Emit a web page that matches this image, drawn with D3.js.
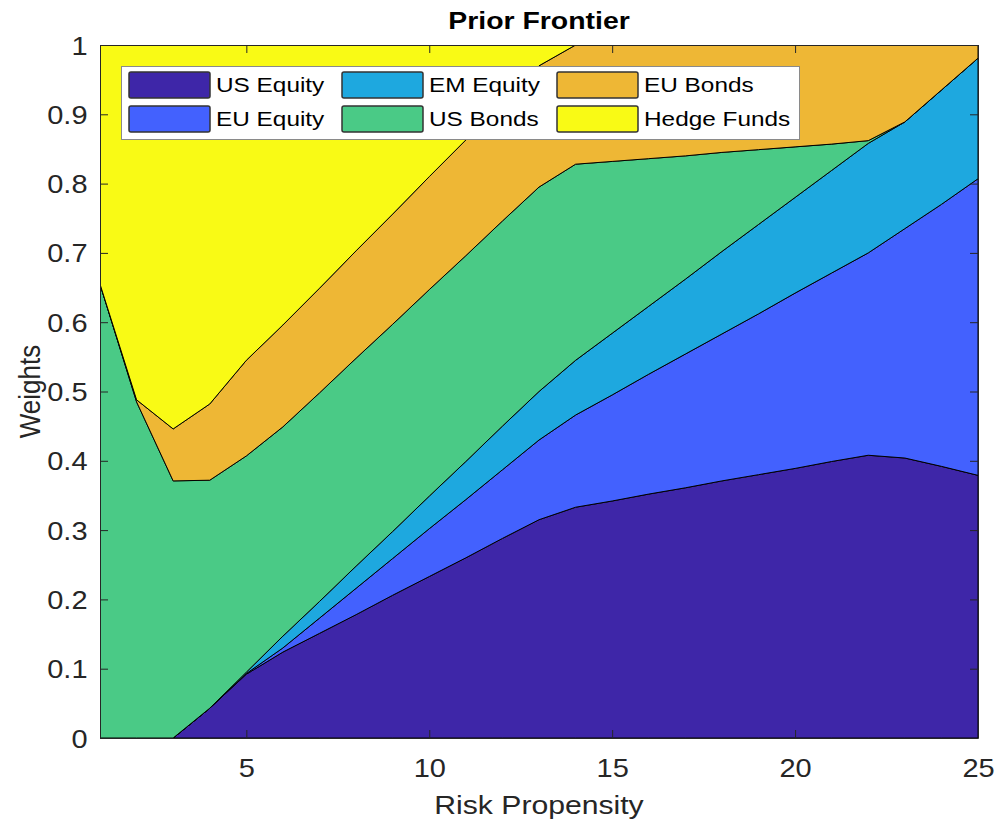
<!DOCTYPE html>
<html>
<head>
<meta charset="utf-8">
<script src="https://cdn.jsdelivr.net/npm/d3@7/dist/d3.min.js"></script>
<style>
  html, body { margin: 0; padding: 0; background: #fff; }
  svg { display: block; }
  text { font-family: "Liberation Sans", Arial, Helvetica, sans-serif; }
</style>
</head>
<body>
<svg id="chart" width="998" height="820"></svg>
<script>
// Risk propensity levels (x axis)
const riskLevels = d3.range(1, 26);

// Asset names, in stacking order (bottom to top)
const assets = ["US Equity", "EU Equity", "EM Equity", "US Bonds", "EU Bonds", "Hedge Funds"];

// Portfolio weights for each asset at every risk level
const usEquity   = [0, 0, 0, 0.043, 0.092, 0.124, 0.151, 0.178, 0.206, 0.233, 0.260, 0.288, 0.315, 0.333, 0.342, 0.352, 0.361, 0.371, 0.380, 0.389, 0.399, 0.408, 0.404, 0.392, 0.379];
const euEquity   = [0, 0, 0, 0, 0.001, 0.006, 0.022, 0.038, 0.053, 0.069, 0.084, 0.099, 0.115, 0.133, 0.153, 0.173, 0.193, 0.212, 0.232, 0.253, 0.272, 0.292, 0.331, 0.378, 0.428];
const emEquity   = [0, 0, 0, 0, 0.002, 0.017, 0.024, 0.032, 0.039, 0.047, 0.055, 0.063, 0.070, 0.079, 0.089, 0.098, 0.108, 0.119, 0.129, 0.138, 0.148, 0.158, 0.154, 0.165, 0.174];
const usBonds    = [0.655, 0.485, 0.371, 0.329, 0.312, 0.302, 0.301, 0.300, 0.299, 0.298, 0.297, 0.296, 0.295, 0.283, 0.248, 0.213, 0.178, 0.143, 0.108, 0.073, 0.038, 0.004, 0, 0, 0];
const euBonds    = [0, 0.003, 0.075, 0.110, 0.138, 0.147, 0.151, 0.155, 0.159, 0.163, 0.167, 0.171, 0.175, 0.172, 0.168, 0.164, 0.160, 0.155, 0.151, 0.147, 0.143, 0.138, 0.111, 0.065, 0.019];
const hedgeFunds = [0.345, 0.512, 0.554, 0.518, 0.455, 0.404, 0.351, 0.297, 0.244, 0.190, 0.137, 0.083, 0.030, 0, 0, 0, 0, 0, 0, 0, 0, 0, 0, 0, 0];

const xTicks = [5, 10, 15, 20, 25];
const yTicks = [0, 0.1, 0.2, 0.3, 0.4, 0.5, 0.6, 0.7, 0.8, 0.9, 1];

const colors = ["#3E26A8", "#4361FE", "#1EA8DF", "#4ACA86", "#EEB735", "#F9FA15"];

const seriesValues = [usEquity, euEquity, emEquity, usBonds, euBonds, hedgeFunds];
const rows = riskLevels.map((x, i) => {
  const r = { x };
  assets.forEach((a, k) => { r[a] = seriesValues[k][i]; });
  return r;
});

const margin = { left: 100, right: 20, top: 45, bottom: 82 };
const W = 998, H = 820;
const stretch = 1.16;   // horizontal widening applied to all text
const svg = d3.select("#chart");

const x = d3.scaleLinear().domain([1, 25]).range([margin.left, W - margin.right]);
const y = d3.scaleLinear().domain([0, 1]).range([H - margin.bottom, margin.top]);

const stacked = d3.stack().keys(assets)(rows);
const area = d3.area()
  .x(d => x(d.data.x))
  .y0(d => y(d[0]))
  .y1(d => y(d[1]));

const axisColor = "#262626";

// clip areas to the plot box
svg.append("clipPath").attr("id", "plotClip")
  .append("rect")
  .attr("x", margin.left).attr("y", margin.top)
  .attr("width", x.range()[1] - margin.left)
  .attr("height", y.range()[0] - margin.top);

svg.append("g").attr("clip-path", "url(#plotClip)")
  .selectAll("path")
  .data(stacked)
  .join("path")
  .attr("d", area)
  .attr("fill", (d, i) => colors[i])
  .attr("stroke", "#000")
  .attr("stroke-width", 1)
  .attr("stroke-linejoin", "round");

// axes with inward ticks, box on all four sides
const tickLen = 8;
const tickFont = 25;
const xAxisB = d3.axisBottom(x).tickValues(xTicks).tickSizeInner(-tickLen).tickSizeOuter(0);
const xAxisT = d3.axisTop(x).tickValues(xTicks).tickSizeInner(-tickLen).tickSizeOuter(0).tickFormat("");
const yAxisL = d3.axisLeft(y).tickValues(yTicks).tickSizeInner(-tickLen).tickSizeOuter(0).tickFormat(d3.format("~g"));
const yAxisR = d3.axisRight(y).tickValues(yTicks).tickSizeInner(-tickLen).tickSizeOuter(0).tickFormat("");

function styleAxis(g) {
  g.select(".domain").attr("stroke", axisColor).attr("stroke-width", 1);
  g.selectAll(".tick line").attr("stroke", axisColor).attr("stroke-width", 1);
  g.selectAll(".tick text").attr("fill", axisColor).style("font-size", tickFont + "px")
    .style("font-family", '"Liberation Sans", Arial, sans-serif');
}

svg.append("g").attr("transform", `translate(0,${y(0)})`).call(xAxisB).call(styleAxis)
  .selectAll(".tick text").attr("y", 39).attr("dy", 0)
  .attr("transform", `scale(${stretch},1)`);
svg.append("g").attr("transform", `translate(0,${y(1)})`).call(xAxisT).call(styleAxis);
svg.append("g").attr("transform", `translate(${x(1)},0)`).call(yAxisL).call(styleAxis)
  .selectAll(".tick text").attr("x", -12.5 / stretch).attr("dy", "0.36em")
  .attr("transform", `scale(${stretch},1)`);
svg.append("g").attr("transform", `translate(${x(25)},0)`).call(yAxisR).call(styleAxis);

// title and axis labels
const cx = (x(1) + x(25)) / 2;
svg.append("text")
  .attr("transform", `translate(${cx},29) scale(${stretch},1)`)
  .attr("text-anchor", "middle")
  .style("font-size", "24.5px").style("font-weight", "bold")
  .attr("fill", "#000")
  .text("Prior Frontier");

svg.append("text")
  .attr("transform", `translate(${cx},814) scale(${stretch},1)`)
  .attr("text-anchor", "middle")
  .style("font-size", "26px")
  .attr("fill", axisColor)
  .text("Risk Propensity");

svg.append("text")
  .attr("transform", `translate(40,${(y(0) + y(1)) / 2}) scale(${stretch},1) rotate(-90)`)
  .attr("text-anchor", "middle")
  .style("font-size", "26px")
  .attr("fill", axisColor)
  .text("Weights");

// legend: three columns, two rows (column-major order)
const legend = svg.append("g");
legend.append("rect")
  .attr("x", 121.5).attr("y", 66.5).attr("width", 678).attr("height", 73)
  .attr("fill", "#fff").attr("stroke", "#8a8a8a").attr("stroke-width", 1);

const colX = [129, 342, 557];
const rowY = [72, 106];
assets.forEach((name, i) => {
  const c = Math.floor(i / 2), r = i % 2;
  const gx = colX[c], gy = rowY[r];
  legend.append("rect")
    .attr("x", gx).attr("y", gy).attr("width", 81).attr("height", 26)
    .attr("rx", 2)
    .attr("fill", colors[i]).attr("stroke", "#333").attr("stroke-width", 1.5);
  legend.append("text")
    .attr("transform", `translate(${gx + 87},${gy + 13}) scale(${stretch},1)`)
    .attr("dy", "0.35em")
    .style("font-size", "21px")
    .attr("fill", "#000")
    .text(name);
});
</script>
</body>
</html>
